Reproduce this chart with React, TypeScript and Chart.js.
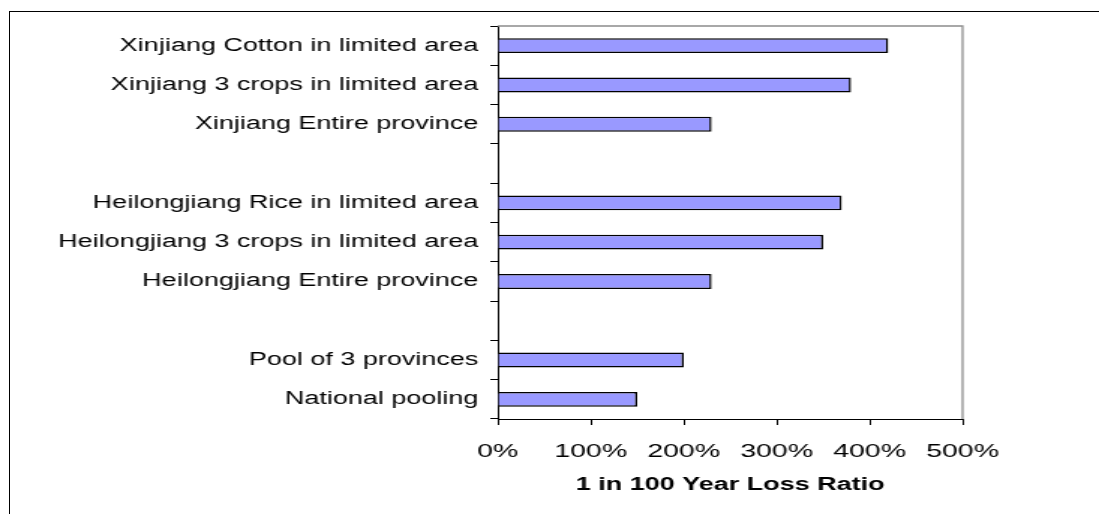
import { useEffect, useRef } from "react";
import { Chart, registerables } from "chart.js";

Chart.register(...registerables);

const categories = [
  "Xinjiang Cotton in limited area",
  "Xinjiang 3 crops in limited area",
  "Xinjiang Entire province",
  "",
  "Heilongjiang Rice in limited area",
  "Heilongjiang 3 crops in limited area",
  "Heilongjiang Entire province",
  "",
  "Pool of 3 provinces",
  "National pooling",
];
const lossRatio = [420, 380, 230, null, 370, 350, 230, null, 200, 150];
const xMin = 0;
const xMax = 500;
const xStep = 100;
const axisTitle = "1 in 100 Year Loss Ratio";

const FONT = "'Liberation Sans', Arial, Helvetica, sans-serif";
const INNER_W = 733;
const H = 514;
const SCALE_X = 1099 / INNER_W;

const plotBorder = {
  id: "plotBorder",
  beforeDatasetsDraw(chart: any) {
    const { ctx, chartArea } = chart;
    ctx.save();
    ctx.strokeStyle = "#8c8c8c";
    ctx.lineWidth = 1.3;
    ctx.beginPath();
    ctx.moveTo(chartArea.left, chartArea.top);
    ctx.lineTo(chartArea.right, chartArea.top);
    ctx.lineTo(chartArea.right, chartArea.bottom);
    ctx.stroke();
    ctx.restore();
  },
};

export default function App() {
  const ref = useRef<HTMLCanvasElement | null>(null);

  useEffect(() => {
    if (!ref.current) return;
    Chart.defaults.font.family = FONT;
    const chart = new Chart(ref.current, {
      type: "bar",
      data: {
        labels: categories,
        datasets: [
          {
            data: lossRatio as any,
            backgroundColor: "#9999FF",
            borderColor: "#000000",
            borderWidth: 1.5,
            barPercentage: 0.38,
            categoryPercentage: 1,
          },
        ],
      },
      options: {
        indexAxis: "y",
        responsive: false,
        animation: false,
        devicePixelRatio: 1,
        layout: { padding: { left: 0, top: 26, right: 91, bottom: 0 } },
        plugins: {
          legend: { display: false },
          tooltip: { enabled: false },
        },
        scales: {
          y: {
            type: "category",
            afterFit: (s: any) => {
              s.width = 332;
            },
            grid: {
              display: true,
              drawOnChartArea: false,
              offset: true,
              tickLength: 5,
              color: "#000",
            },
            border: { color: "#000", width: 1 },
            ticks: {
              color: "#000",
              padding: 8,
              font: { family: FONT, size: 18 },
            },
          },
          x: {
            type: "linear",
            min: xMin,
            max: xMax,
            afterFit: (s: any) => {
              s.height = 95;
            },
            grid: {
              display: true,
              drawOnChartArea: false,
              tickLength: 6,
              color: "#000",
            },
            border: { color: "#000", width: 1 },
            ticks: {
              stepSize: xStep,
              color: "#000",
              padding: 15,
              font: { family: FONT, size: 19 },
              callback: (v: any) => `${v}%`,
            },
            title: {
              display: true,
              text: axisTitle,
              color: "#000",
              font: { family: FONT, size: 18, weight: "bold" },
              padding: { top: 0, bottom: 18 },
            },
          },
        },
      },
      plugins: [plotBorder],
    });
    return () => chart.destroy();
  }, []);

  return (
    <div
      style={{
        position: "absolute",
        left: 0,
        top: 0,
        width: 1099,
        height: H,
        overflow: "hidden",
        background: "#fff",
      }}
    >
      <div
        style={{
          position: "absolute",
          left: 0,
          top: 0,
          width: INNER_W,
          height: H,
          transform: `scaleX(${SCALE_X})`,
          transformOrigin: "0 0",
        }}
      >
        <canvas ref={ref} width={INNER_W} height={H} />
      </div>
      <div
        style={{
          position: "absolute",
          left: 9,
          top: 11,
          width: 1099,
          height: 520,
          borderLeft: "1.5px solid #000",
          borderTop: "1.5px solid #000",
          pointerEvents: "none",
        }}
      />
    </div>
  );
}
